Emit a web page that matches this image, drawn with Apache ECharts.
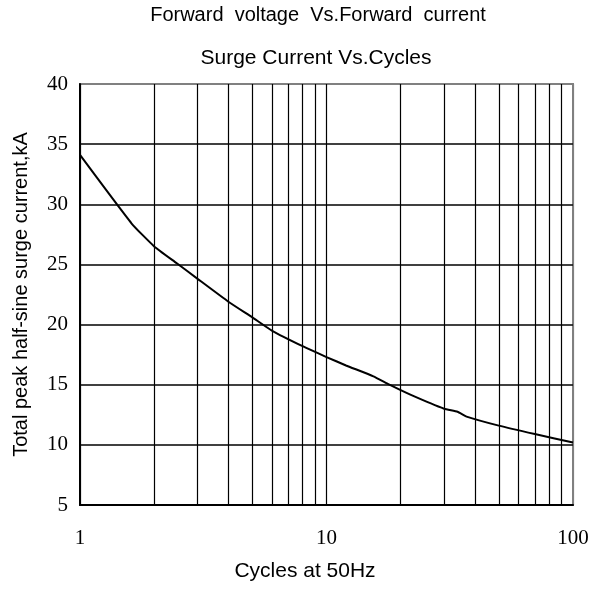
<!DOCTYPE html>
<html>
<head>
<meta charset="utf-8">
<script src="https://cdn.jsdelivr.net/npm/echarts@6/dist/echarts.min.js"></script>
<style>
  html, body { margin: 0; padding: 0; background: #fff; }
  #chart { width: 594px; height: 590px; }
</style>
</head>
<body>
<div id="chart"></div>
<script>
// cycles (log axis) and surge current
var cycles = [1, 1.62, 2, 2.47, 3, 4, 5, 6, 8, 10, 12, 15.5, 18, 22, 30, 34, 37, 50, 70, 100];
var current = [34.1, 28.4, 26.5, 25.1, 23.8, 21.9, 20.6, 19.5, 18.2, 17.3, 16.6, 15.7, 15.0, 14.15, 13.0, 12.75, 12.35, 11.6, 10.9, 10.2];

// intermediate vertical grid lines of the log paper
var minorGridX = [2, 3, 4, 5, 6, 7, 8, 9, 20, 30, 40, 50, 60, 70, 80, 90];
var yTicks = [5, 10, 15, 20, 25, 30, 35, 40];

var chart = echarts.init(document.getElementById("chart"));

var points = cycles.map(function (c, i) { return [c, current[i]]; });

chart.setOption({
  animation: false,
  title: [
    {
      text: "Forward  voltage  Vs.Forward  current",
      left: 318,
      top: 5,
      textAlign: "center",
      padding: 0,
      textStyle: { fontFamily: "Liberation Sans", fontSize: 20, fontWeight: "normal", color: "#000" }
    },
    {
      text: "Surge Current Vs.Cycles",
      left: 316,
      top: 48,
      textAlign: "center",
      padding: 0,
      textStyle: { fontFamily: "Liberation Sans", fontSize: 21, fontWeight: "normal", color: "#000" }
    }
  ],
  grid: {
    left: 80,
    right: 21,
    top: 84,
    bottom: 85,
    show: true,
    borderColor: "#808080",
    borderWidth: 2
  },
  xAxis: {
    type: "log",
    logBase: 10,
    min: 1,
    max: 100,
    name: "Cycles at 50Hz",
    nameLocation: "middle",
    nameGap: 56,
    nameTextStyle: {
      fontFamily: "Liberation Sans",
      fontSize: 21,
      color: "#000",
      padding: [0, 43, 0, 0]
    },
    axisLine: { show: true, lineStyle: { color: "#000", width: 2 } },
    axisTick: { show: false },
    axisLabel: {
      margin: 23,
      fontFamily: "Liberation Serif",
      fontSize: 21,
      color: "#000"
    },
    splitLine: { show: true, lineStyle: { color: ["#000", "#000", "#808080"], width: 1.2 } },
    minorTick: { show: false },
    minorSplitLine: { show: false }
  },
  yAxis: {
    type: "value",
    min: yTicks[0],
    max: yTicks[yTicks.length - 1],
    interval: 5,
    name: "Total peak half-sine surge current,kA",
    nameLocation: "middle",
    nameGap: 49,
    nameTextStyle: { fontFamily: "Liberation Sans", fontSize: 20, color: "#000" },
    axisLine: { show: true, lineStyle: { color: "#000", width: 2 } },
    axisTick: { show: false },
    axisLabel: {
      margin: 12,
      fontFamily: "Liberation Serif",
      fontSize: 21,
      color: "#000"
    },
    splitLine: {
      show: true,
      lineStyle: { color: ["#000", "#000", "#000", "#000", "#000", "#000", "#000", "#808080"], width: 1.6 }
    }
  },
  series: [
    {
      type: "line",
      data: points,
      showSymbol: false,
      symbol: "none",
      smooth: 0.15,
      lineStyle: { color: "#000", width: 2 },
      markLine: {
        silent: true,
        symbol: "none",
        label: { show: false },
        lineStyle: { color: "#000", width: 1.2, type: "solid" },
        data: minorGridX.map(function (v) { return { xAxis: v }; })
      }
    }
  ]
});
</script>
</body>
</html>
